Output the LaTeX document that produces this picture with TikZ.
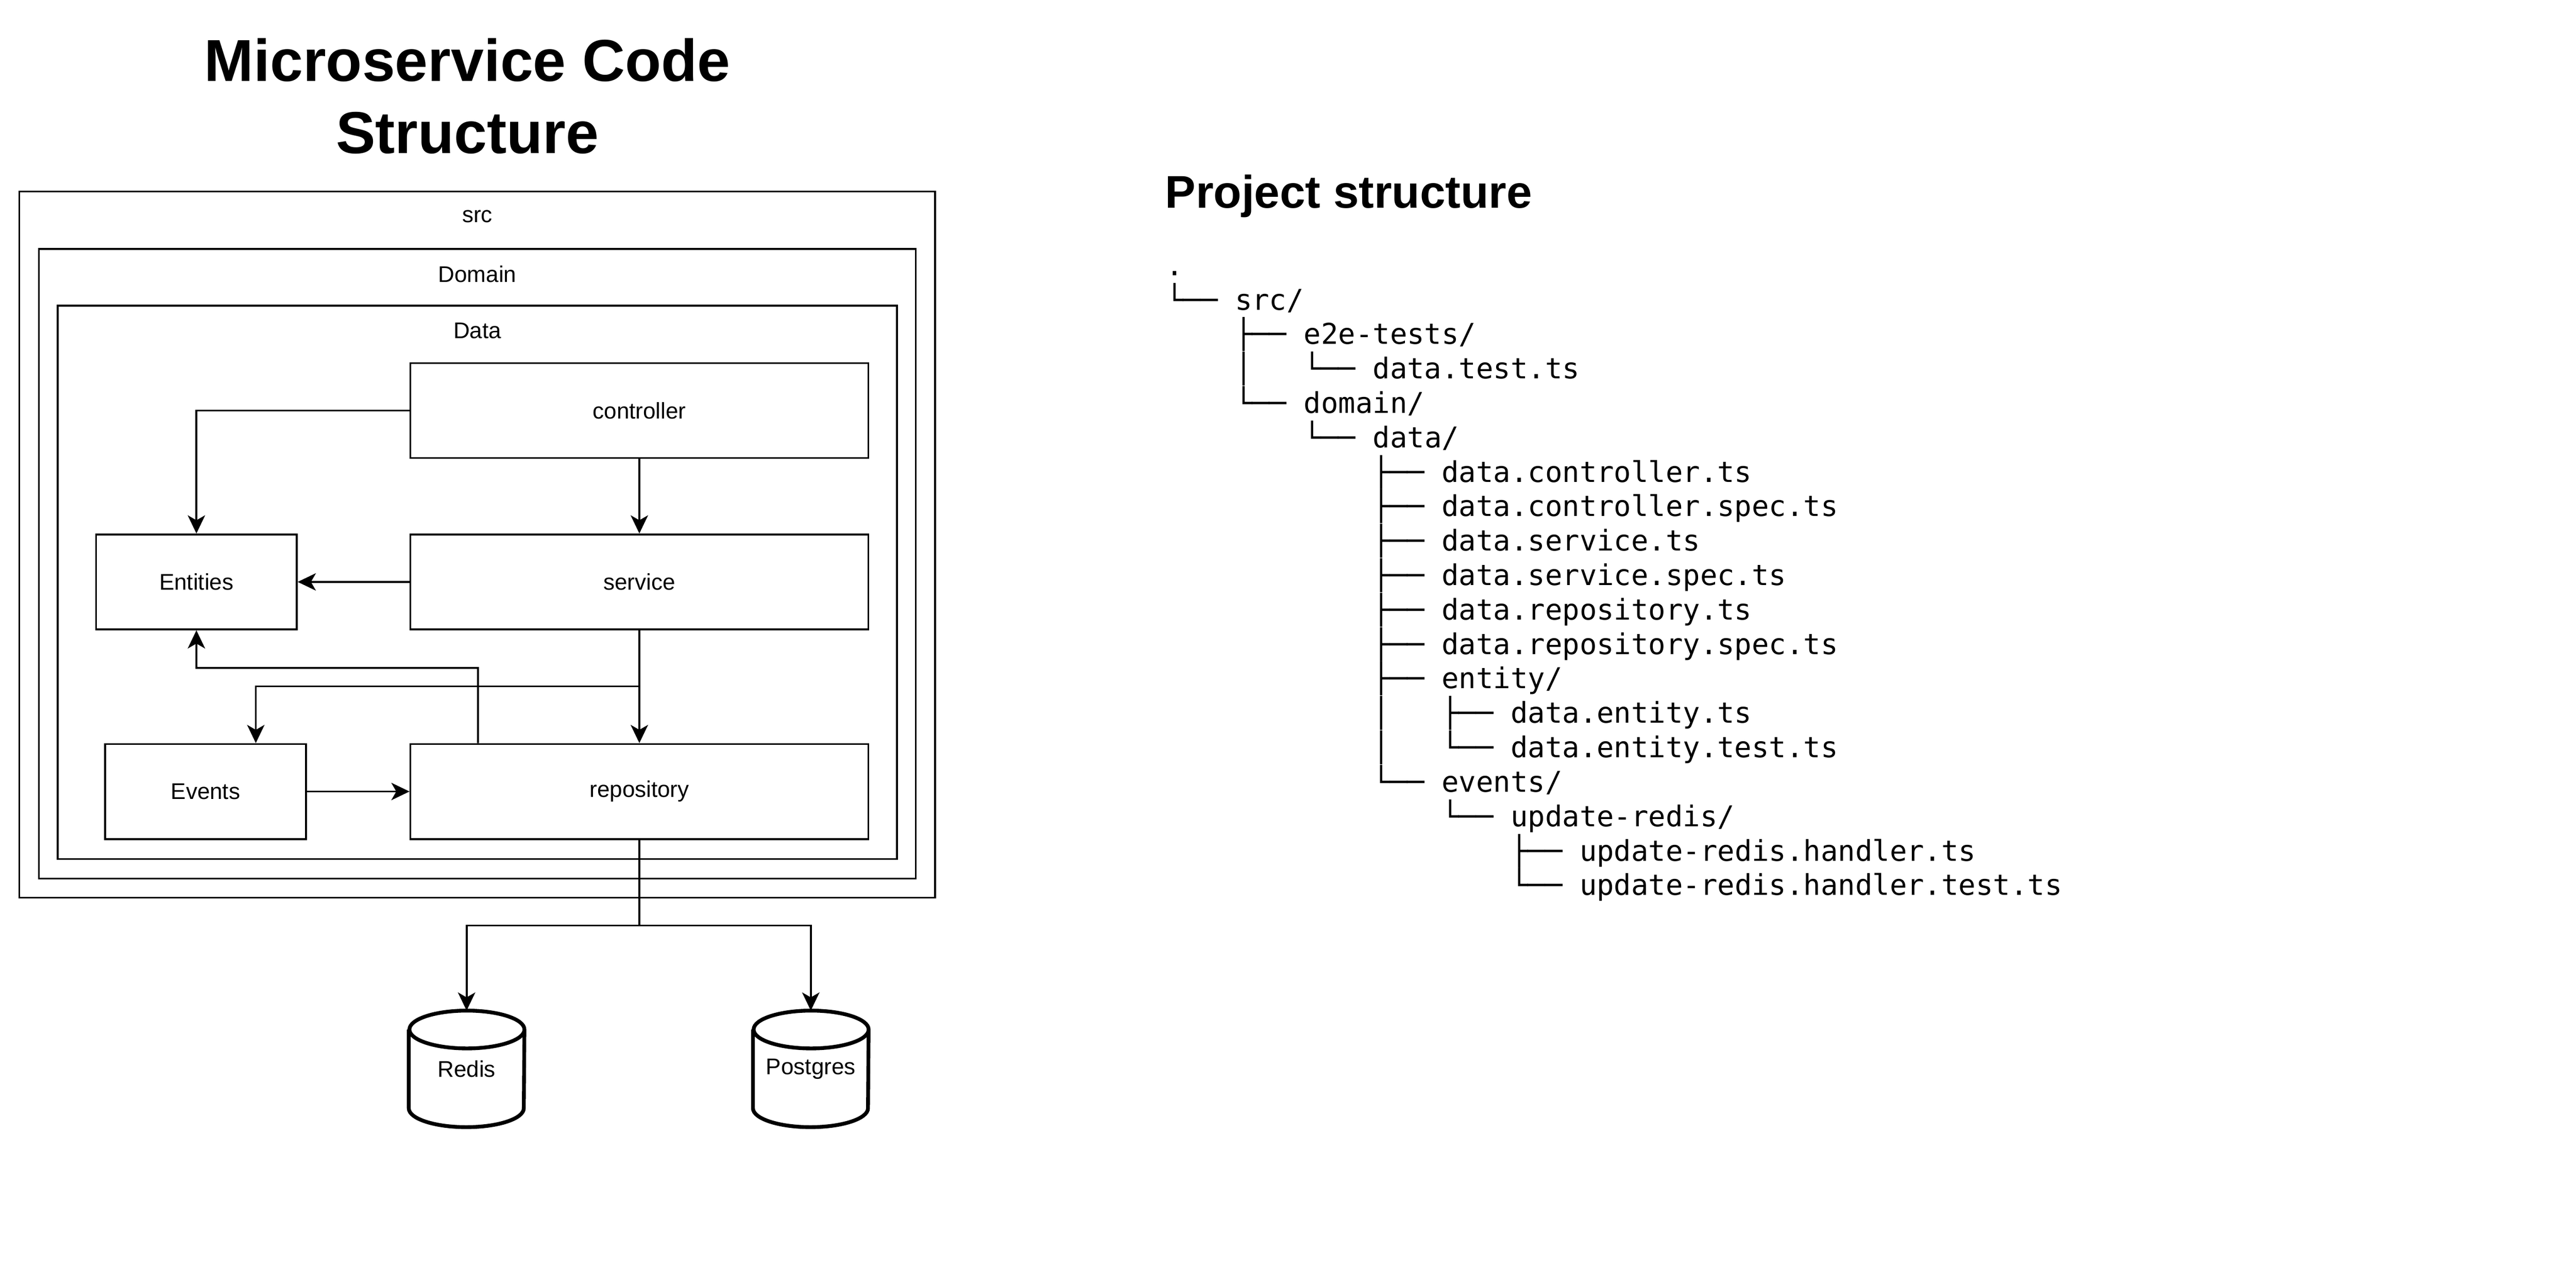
\documentclass[tikz,border=0pt]{standalone}
\usepackage{fontspec}
\setmainfont{Liberation Sans}
\newfontfamily\treefont{DejaVu Sans Mono}
\usetikzlibrary{arrows.meta,positioning}

\begin{document}
\begin{tikzpicture}[x=1pt,y=-1pt,
    frame/.style={draw,line width=1.1pt,inner sep=0pt},
    box/.style={draw,line width=1.1pt,inner sep=0pt,minimum width=278.7pt,minimum height=57.8pt,font=\fontsize{13.8}{16}\selectfont},
    smallbox/.style={box,minimum width=122.2pt},
    lbl/.style={font=\fontsize{13.8}{16}\selectfont},
    db/.style={inner sep=0pt,minimum width=70pt,minimum height=70.5pt,font=\fontsize{13.8}{16}\selectfont},
    dbline/.style={line width=2.3pt},
    arr/.style={line width=1.15pt,-{Stealth[length=11pt,width=10.5pt,inset=3pt]}},
    title/.style={font=\bfseries\fontsize{36}{42}\selectfont,anchor=base},
    tree/.style={font=\treefont\fontsize{17.42}{20.9}\selectfont,anchor=base west,inner sep=0pt}]
    \useasboundingbox (0,0) rectangle (1560,766.7);

    \begin{scope}[scale=0.995,transform shape]
    % title
    \node[title] (title) at (284.5,49.3) {Microservice Code};
    \node[title] (titleB) at (284.5,93.2) {Structure};

    % nested folders
    \node[frame,minimum width=557.4pt,minimum height=429.5pt] (src) at (290.5,331.25) {};
    \node[frame,minimum width=533.7pt,minimum height=383pt] (domain) at (290.55,343) {};
    \node[frame,minimum width=510.7pt,minimum height=336.5pt] (data) at (290.55,354.25) {};
    \node[lbl] at ([yshift=-15.8pt]src.north) {src};
    \node[lbl] at ([yshift=-15.8pt]domain.north) {Domain};
    \node[lbl] at ([yshift=-15.8pt]data.north) {Data};

    % layers
    \node[box] (controller) at (389.15,249.75) {controller};
    \node[box] (service) at (389.15,354) {service};
    \node[box] (repository) at (389.15,481.5) {repository};
    \node[smallbox] (entities) at (119.55,354) {Entities};
    \node[smallbox] (events) at (125.1,481.5) {Events};

    % databases
    \node[db] (redis) at (284,650.25) {Redis};
    \node[db] (postgres) at (493.5,650.25) {Postgres};
    \foreach \n in {redis,postgres}
        \draw[dbline] ([yshift=-11.5pt]\n.north west) -- ([yshift=11.5pt]\n.south west)
            arc[start angle=180,end angle=360,x radius=35pt,y radius=11.5pt]
            -- ([yshift=-11.5pt]\n.north east)
            arc[start angle=0,end angle=180,x radius=35pt,y radius=11.5pt]
            arc[start angle=180,end angle=360,x radius=35pt,y radius=11.5pt];

    % connectors
    \coordinate (split) at (389.15,417.5);
    \coordinate (turn) at (290.9,406.3);
    \coordinate (fork) at (389.15,563);
    \draw[arr] (controller.west) -| (entities.north);
    \draw[arr] (controller.south) -- (service.north);
    \draw[arr] (service.west) -- (entities.east);
    \draw[arr] (service.south) -- (repository.north);
    \draw[arr] (service.south) -- (split) -| ([xshift=30.6pt]events.north);
    \draw[arr] ([xshift=-98.25pt]repository.north) -- (turn) -| (entities.south);
    \draw[arr] (events.east) -- (repository.west);
    \draw[arr] (repository.south) -- (fork) -| (redis.north);
    \draw[arr] (fork) -| (postgres.north);

    % project tree
    \node[font=\bfseries\fontsize{27.9}{33}\selectfont,anchor=base west,inner sep=0pt] (project) at (709,126.5) {Project structure};
    \foreach \t [count=\i from 0] in {.,
        └──~src/,
        ~~~~├──~e2e-tests/,
        ~~~~│~~~└──~data.test.ts,
        ~~~~└──~domain/,
        ~~~~~~~~└──~data/,
        ~~~~~~~~~~~~├──~data.controller.ts,
        ~~~~~~~~~~~~├──~data.controller.spec.ts,
        ~~~~~~~~~~~~├──~data.service.ts,
        ~~~~~~~~~~~~├──~data.service.spec.ts,
        ~~~~~~~~~~~~├──~data.repository.ts,
        ~~~~~~~~~~~~├──~data.repository.spec.ts,
        ~~~~~~~~~~~~├──~entity/,
        ~~~~~~~~~~~~│~~~├──~data.entity.ts,
        ~~~~~~~~~~~~│~~~└──~data.entity.test.ts,
        ~~~~~~~~~~~~└──~events/,
        ~~~~~~~~~~~~~~~~└──~update-redis/,
        ~~~~~~~~~~~~~~~~~~~~├──~update-redis.handler.ts,
        ~~~~~~~~~~~~~~~~~~~~└──~update-redis.handler.test.ts}
        \node[tree] (line\i) at (709.5,{167.5+20.95*\i}) {\t};
    \end{scope}
\end{tikzpicture}
\end{document}
